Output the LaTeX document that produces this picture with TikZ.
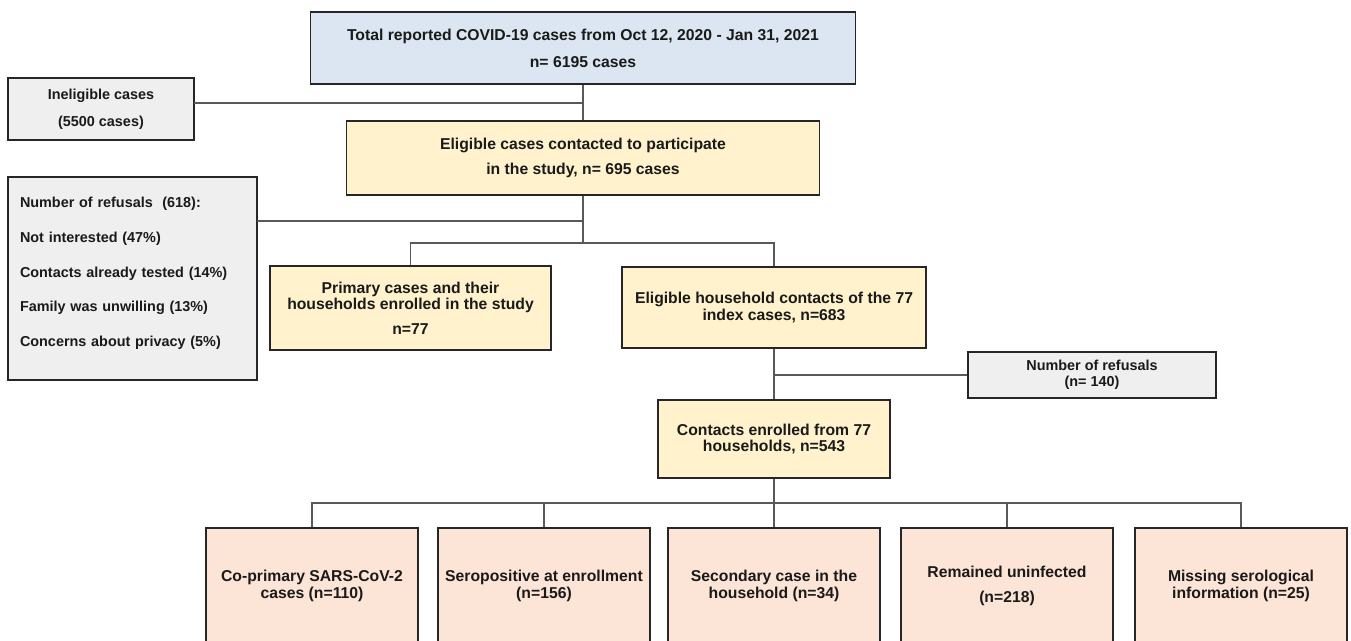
\documentclass[tikz,border=0pt]{standalone}
\usepackage{fontspec}
\setmainfont{Liberation Sans}
\usepackage{tikz}

\definecolor{bluefill}{HTML}{DCE6F2}
\definecolor{yellowfill}{HTML}{FFF2CC}
\definecolor{greyfill}{HTML}{EFEFEF}
\definecolor{pinkfill}{HTML}{FCE4D6}
\definecolor{boxline}{HTML}{262626}
\definecolor{linkline}{HTML}{595959}
\definecolor{txt}{HTML}{1A1A1A}

\tikzset{
  box/.style={draw=boxline, line width=1.4pt, inner sep=0pt, align=center, text=txt,
    font=\fontsize{11.8}{12.3}\selectfont\bfseries},
  topbox/.style={box, fill=bluefill},
  studybox/.style={box, fill=yellowfill},
  outbox/.style={box, fill=greyfill, font=\fontsize{10.8}{12}\selectfont\bfseries},
  resultbox/.style={box, fill=pinkfill, minimum width=159pt, minimum height=87pt},
  link/.style={draw=linkline, line width=1.1pt},
}

\begin{document}
\begin{tikzpicture}[x=0.75pt,y=0.75pt,yscale=-1,xscale=1]
\useasboundingbox (0,0) rectangle (1351,641);

% Boxes
\node[topbox, minimum width=408.75pt, minimum height=54pt] (total) at (583,48)
  {Total reported COVID-19 cases from Oct 12, 2020 - Jan 31, 2021\\[8pt]n= 6195 cases};
\node[outbox, minimum width=139.5pt, minimum height=46.5pt] (inelig) at (101,109)
  {Ineligible cases\\[8pt](5500 cases)};
\node[studybox, minimum width=354.75pt, minimum height=55.5pt] (eligible) at (583,158)
  {Eligible cases contacted to participate\\[7pt]in the study, n= 695 cases};
\node[outbox, align=left, text width=168.75pt, minimum width=186.75pt, minimum height=152.25pt] (refusals) at (132.5,278.5)
  {Number of refusals\ \ (618):\\[14pt]Not interested (47\%)\\[14pt]Contacts already tested (14\%)\\[14pt]Family was unwilling (13\%)\\[14pt]Concerns about privacy (5\%)\\[-2pt]\mbox{}};
\node[studybox, minimum width=210.75pt, minimum height=63pt] (primary) at (410.5,308)
  {Primary cases and their\\households enrolled in the study\\[6pt]n=77};
\node[studybox, minimum width=228pt, minimum height=60.75pt] (hhcontacts) at (774,307.5)
  {Eligible household contacts of the 77\\index cases, n=683};
\node[outbox, minimum width=186pt, minimum height=34.5pt] (hhrefusals) at (1092,375)
  {Number of refusals\\(n= 140)};
\node[studybox, minimum width=174pt, minimum height=58.5pt] (enrolled) at (774,439)
  {Contacts enrolled from 77\\households, n=543};

% Outcome boxes
\node[resultbox] (coprimary) at (312,586) {Co-primary SARS-CoV-2\\cases (n=110)};
\node[resultbox] (seropos) at (544,586) {Seropositive at enrollment\\(n=156)};
\node[resultbox] (secondary) at (774,586) {Secondary case in the\\household (n=34)};
\node[resultbox] (uninfected) at (1007,586) {Remained uninfected\\[6pt](n=218)};
\node[resultbox] (missing) at (1241,586) {Missing serological\\information (n=25)};

% Connectors
\coordinate (inelout) at (194,103);
\coordinate (refout) at (257,221);
\coordinate (split) at (583,243);
\coordinate (fork) at (774,503);

\draw[link] (total) -- (eligible);
\draw[link] (inelout) -- (inelout -| total);
\draw[link] (eligible) -- (split);
\draw[link] (refout) -- (refout -| eligible);
\draw[link] (primary) |- (split) -| (hhcontacts);
\draw[link] (hhcontacts) -- (enrolled);
\draw[link] (hhrefusals) -- (hhrefusals -| hhcontacts);
\draw[link] (enrolled) -- (fork);
\foreach \n in {coprimary,seropos,secondary,uninfected,missing}
  \draw[link] (\n) |- (fork);

\end{tikzpicture}
\end{document}
